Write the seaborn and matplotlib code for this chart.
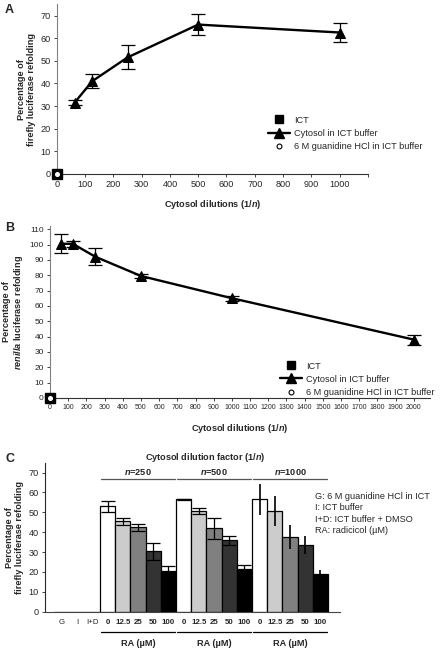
import numpy as np
import pandas as pd
import matplotlib
matplotlib.use("Agg")
import matplotlib.pyplot as plt
import matplotlib.transforms as mtransforms
from matplotlib.lines import Line2D
import seaborn as sns

# panel A: firefly luciferase, cytosol dilutions
dil_a = [62.5, 125, 250, 500, 1000]
pct_a = [31.5, 41, 51.5, 66, 62.5]
err_a = [1.0, 3.0, 5.3, 4.8, 4.4]

# panel B: renilla luciferase
dil_b = [62.5, 125, 250, 500, 1000, 2000]
pct_b = [100.5, 100.5, 92, 79.5, 65, 38]
err_b = [6.2, 2.0, 5.5, 1.5, 1.5, 3.3]

# controls at the origin
ict_x, ict_y = [0], [0]
gua_x, gua_y = [0], [0]

# panel C: radicicol titration
controls = ["G", "I", "I+D"]
n_groups = [250, 500, 1000]
ra_doses = ["0", "12.5", "25", "50", "100"]
pct_c = {
    250: [53, 45.5, 42.5, 30.5, 20.5],
    500: [56.5, 50.5, 42, 36, 21.5],
    1000: [56.5, 50.5, 37.5, 33.5, 19],
}
err_c = {
    250: [2.7, 1.7, 1.7, 4.3, 2.7],
    500: [0.2, 1.5, 5.3, 2.3, 2.2],
    1000: [8, 7.5, 6, 4.7, 2],
}
notes_c = ["G: 6 M guanidine HCl in ICT", "I: ICT buffer",
           "I+D: ICT buffer + DMSO", "RA: radicicol (\u00b5M)"]

shades = {"ctrl": "#ffffff", "0": "#ffffff", "12.5": "#cccccc", "25": "#808080",
          "50": "#333333", "100": "#000000"}

rows = [{"cond": c, "n": 0, "ra": "ctrl", "label": c, "value": 0.0, "err": 0.0} for c in controls]
for n in n_groups:
    for ra, v, e in zip(ra_doses, pct_c[n], err_c[n]):
        rows.append({"cond": f"{n}_{ra}", "n": n, "ra": ra, "label": ra, "value": v, "err": e})
df_c = pd.DataFrame(rows)

sns.set_theme(style="ticks")
plt.rcParams["font.family"] = ["Liberation Sans", "DejaVu Sans"]
plt.rcParams["axes.linewidth"] = 0.8
plt.rcParams["mathtext.fontset"] = "custom"
plt.rcParams["mathtext.rm"] = "Liberation Sans"
plt.rcParams["mathtext.it"] = "Liberation Sans:italic"
plt.rcParams["mathtext.bf"] = "Liberation Sans:bold"
plt.rcParams["mathtext.bfit"] = "Liberation Sans:italic:bold"

FS = 6.6
XLAB = "Cytosol dilutions (1/$\\mathbfit{n}$)"

fig = plt.figure(figsize=(4.41, 6.48), dpi=100)


def curve_panel(ax, x, y, err, ylab, xmax, ymax, xstep, xtick_size, ytick_size, leg_anchor):
    sns.lineplot(x=x, y=y, marker="^", color="black", lw=1.7, ms=7,
                 markeredgecolor="black", ax=ax, zorder=3)
    ax.errorbar(x, y, yerr=err, fmt="none", ecolor="black", elinewidth=0.9,
                capsize=5, capthick=0.9, zorder=3)
    ax.plot(ict_x, ict_y, "s", color="black", ms=7, clip_on=False, zorder=6)
    ax.plot(gua_x, gua_y, "o", mfc="white", mec="white", ms=2.6, clip_on=False, zorder=7)
    ax.set_xlim(0, xmax)
    ax.set_ylim(0, ymax)
    ticks = np.arange(0, xmax + 1, xstep)
    ax.set_xticks(ticks)
    ax.set_xticklabels([f"{t:g}" if t <= xmax - xstep / 2 else "" for t in ticks])
    ax.set_yticks(np.arange(0, ymax, 10))
    ax.tick_params(axis="x", labelsize=xtick_size, length=2.5, width=0.6, pad=2)
    ax.tick_params(axis="y", labelsize=ytick_size, length=2.5, width=0.6, pad=2)
    ax.spines["left"].set_color("#808080")
    ax.spines["bottom"].set_color("#333333")
    sns.despine(ax=ax)
    ax.set_ylabel(ylab, fontsize=FS, fontweight="bold", labelpad=3)
    handles = [
        Line2D([], [], marker="s", color="black", ls="none", ms=5.5),
        Line2D([], [], marker="^", color="black", lw=1.7, ms=6.5),
        Line2D([], [], marker="o", mfc="white", mec="black", ls="none", ms=3.5, mew=0.8),
    ]
    ax.legend(handles, ["ICT", "Cytosol in ICT buffer", "6 M guanidine HCl in ICT buffer"],
              loc="center left", bbox_to_anchor=leg_anchor, frameon=False, fontsize=FS,
              handlelength=2.4, handletextpad=0.4, labelspacing=0.45, borderpad=0)


ax_a = fig.add_axes([0.129, 0.7315, 0.705, 0.262])
curve_panel(ax_a, dil_a, pct_a, err_a, "Percentage of\nfirefly luciferase refolding",
            1100, 75, 100, FS, FS, (0.665, 0.24))
ax_a.set_xlabel(XLAB, fontsize=FS, fontweight="bold", labelpad=6)

ax_b = fig.add_axes([0.1134, 0.386, 0.862, 0.265])
curve_panel(ax_b, dil_b, pct_b, err_b,
            "Percentage of\n$\\mathbfit{renilla}$ luciferase refolding",
            2090, 112, 100, 5.0, 6.0, (0.593, 0.109))
ax_b.set_xlabel(XLAB, fontsize=FS, fontweight="bold", labelpad=8)

# panel C
ax_c = fig.add_axes([0.102, 0.056, 0.669, 0.23])
palette = {c: shades[r] for c, r in zip(df_c["cond"], df_c["ra"])}
sns.barplot(data=df_c, x="cond", y="value", hue="cond", palette=palette, width=1,
            edgecolor="black", linewidth=0.9, legend=False, ax=ax_c, zorder=2)
pos = np.arange(len(df_c))
for n in n_groups:
    m = (df_c["n"] == n).to_numpy()
    ax_c.errorbar(pos[m], df_c["value"][m], yerr=df_c["err"][m], fmt="none",
                  ecolor="black", elinewidth=0.9 if n != 1000 else 1.2,
                  capsize=5 if n != 1000 else 0, capthick=0.9, zorder=3)
ax_c.set_xlim(-1.12, 18.29)
ax_c.set_ylim(0, 75)
ax_c.set_yticks(np.arange(0, 71, 10))
ax_c.set_xticks(pos)
ax_c.set_xticklabels(df_c["label"])
for lab, r in zip(ax_c.get_xticklabels(), df_c["ra"]):
    lab.set_fontweight("normal" if r == "ctrl" else "bold")
ax_c.tick_params(axis="x", labelsize=5.7, length=0, pad=5)
ax_c.tick_params(axis="y", labelsize=FS, length=2.5, width=0.6, pad=2)
ax_c.set_xlabel("")
ax_c.set_ylabel("Percentage of\nfirefly luciferase refolding", fontsize=FS,
                fontweight="bold", labelpad=3)
ax_c.spines["bottom"].set_color("#444444")
sns.despine(ax=ax_c)

trans = mtransforms.blended_transform_factory(ax_c.transData, ax_c.transAxes)
for n in n_groups:
    idx = pos[(df_c["n"] == n).to_numpy()]
    x0, x1 = idx.min() - 0.42, idx.max() + 0.42
    xc = idx.mean()
    ax_c.plot([x0, x1], [0.89, 0.89], color="#555555", lw=0.9, transform=trans, clip_on=False)
    ax_c.text(xc, 0.94, f"$\\mathbfit{{n}}$={n}", transform=trans, ha="center",
              va="center", fontsize=FS, fontweight="bold")
    ax_c.plot([x0, x1], [-0.135, -0.135], color="black", lw=0.9, transform=trans, clip_on=False)
    ax_c.text(xc, -0.21, "RA (\u00b5M)", transform=trans, ha="center", va="center",
              fontsize=FS, fontweight="bold")
ax_c.text(pos[3:].mean() - 0.6, 1.035, "Cytosol dilution factor (1/$\\mathbfit{n}$)",
          transform=trans, ha="center", va="center", fontsize=FS, fontweight="bold")
fig.text(315 / 441, 1 - 492 / 648, "\n".join(notes_c), ha="left", va="top",
         fontsize=FS, linespacing=1.35)

for lab, y in [("A", 10), ("B", 228), ("C", 459)]:
    fig.text(5 / 441, 1 - y / 648, lab, fontsize=9, fontweight="bold", va="center", ha="left")

fig.savefig("out.png", dpi=100)
